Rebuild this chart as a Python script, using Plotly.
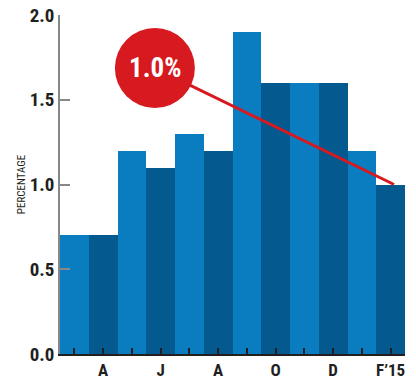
import plotly.graph_objects as go

months = ["M", "A", "M", "J", "J", "A", "S", "O", "N", "D", "J", "F"]
values = [0.7, 0.7, 1.2, 1.1, 1.3, 1.2, 1.9, 1.6, 1.6, 1.6, 1.2, 1.0]
tick_text = ["", "A", "", "J", "", "A", "", "O", "", "D", "", "F\u201915"]
y_ticks = [0.0, 0.5, 1.0, 1.5, 2.0]
y_tick_text = ["0.0", "0.5", "1.0", "1.5", "2.0"]
callout_text = "1.0%"
callout_value = 1.0

LIGHT = "#0a7dc1"
DARK = "#04598e"
RED = "#d71920"
FONT = "Liberation Sans Narrow, Roboto Condensed, Arial Narrow, Liberation Sans, sans-serif"

x = list(range(len(values)))
colors = [LIGHT if i % 2 == 0 else DARK for i in x]

fig = go.Figure()
fig.add_trace(go.Bar(x=x, y=values, marker=dict(color=colors, line=dict(width=0)),
                     width=1.0, hoverinfo="skip"))

# callout positions
cx, cy = 2.8, 1.687
end_x = 11.12

fig.add_shape(type="line", x0=cx, y0=cy, x1=end_x, y1=callout_value,
              line=dict(color=RED, width=3), layer="above")
fig.add_shape(type="circle", xref="x", yref="y", xsizemode="pixel", ysizemode="pixel",
              xanchor=cx, yanchor=cy, x0=-40, x1=40, y0=-40, y1=40,
              fillcolor=RED, line=dict(width=0), layer="above")
fig.add_annotation(x=cx, y=cy, text="<b>" + callout_text + "</b>", showarrow=False,
                   font=dict(family=FONT, size=27, color="white"))

fig.update_layout(
    width=416, height=385,
    margin=dict(l=60, r=11, t=15, b=31, autoexpand=False),
    paper_bgcolor="white", plot_bgcolor="white",
    showlegend=False, bargap=0,
    font=dict(family=FONT, color="#231f20"),
)
fig.update_xaxes(
    range=[-0.5, 11.5], tickmode="array", tickvals=x, ticktext=tick_text,
    ticks="inside", ticklen=6, tickwidth=1.5, tickcolor="#231f20",
    showline=True, linecolor="#231f20", linewidth=1.5,
    showgrid=False, zeroline=False, automargin=False,
    tickfont=dict(family=FONT, size=17, color="#231f20", weight="bold"),
)
fig.update_yaxes(
    range=[0, 2.0], tickmode="array", tickvals=y_ticks, ticktext=y_tick_text,
    ticks="inside", ticklen=10, tickwidth=1.5, tickcolor="#888888",
    showline=True, linecolor="#888888", linewidth=1.5,
    showgrid=False, zeroline=False, automargin=False,
    tickfont=dict(family=FONT, size=19, color="#231f20", weight="bold"),
    title=dict(text="PERCENTAGE", font=dict(family=FONT, size=11, color="#231f20"), standoff=2),
)

fig.write_html("out.html")
